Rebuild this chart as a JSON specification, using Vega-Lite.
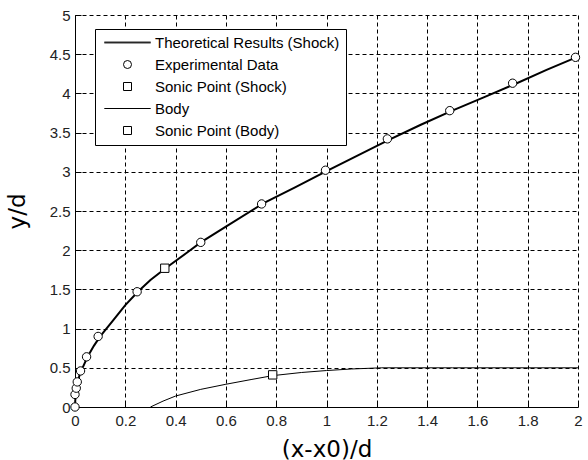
{
  "$schema": "https://vega.github.io/schema/vega-lite/v6.json",
  "width": 503,
  "height": 392,
  "autosize": {"type": "none"},
  "padding": {"left": 75, "top": 15, "right": 10, "bottom": 53},
  "background": "white",
  "config": {
    "view": {"stroke": null},
    "axis": {
      "domainColor": "black",
      "domainWidth": 1,
      "gridColor": "black",
      "gridDash": [4, 3],
      "gridOpacity": 1,
      "gridWidth": 1,
      "tickColor": "black",
      "tickSize": -6,
      "labelFont": "Liberation Sans",
      "labelFontSize": 15,
      "labelColor": "#222",
      "titleFont": "DejaVu Sans",
      "titleFontSize": 23,
      "titleFontWeight": "normal",
      "titleColor": "black"
    }
  },
  "datasets": {
    "lines": [
      {"series": "Theoretical Results (Shock)", "x": 0, "y": 0},
      {"series": "Theoretical Results (Shock)", "x": 0.001, "y": 0.08},
      {"series": "Theoretical Results (Shock)", "x": 0.003, "y": 0.15},
      {"series": "Theoretical Results (Shock)", "x": 0.006, "y": 0.23},
      {"series": "Theoretical Results (Shock)", "x": 0.01, "y": 0.31},
      {"series": "Theoretical Results (Shock)", "x": 0.02, "y": 0.43},
      {"series": "Theoretical Results (Shock)", "x": 0.03, "y": 0.5},
      {"series": "Theoretical Results (Shock)", "x": 0.05, "y": 0.64},
      {"series": "Theoretical Results (Shock)", "x": 0.075, "y": 0.78},
      {"series": "Theoretical Results (Shock)", "x": 0.1, "y": 0.9},
      {"series": "Theoretical Results (Shock)", "x": 0.15, "y": 1.1},
      {"series": "Theoretical Results (Shock)", "x": 0.2, "y": 1.3},
      {"series": "Theoretical Results (Shock)", "x": 0.25, "y": 1.47},
      {"series": "Theoretical Results (Shock)", "x": 0.3, "y": 1.62},
      {"series": "Theoretical Results (Shock)", "x": 0.36, "y": 1.77},
      {"series": "Theoretical Results (Shock)", "x": 0.45, "y": 1.98},
      {"series": "Theoretical Results (Shock)", "x": 0.5, "y": 2.1},
      {"series": "Theoretical Results (Shock)", "x": 0.6, "y": 2.3},
      {"series": "Theoretical Results (Shock)", "x": 0.75, "y": 2.6},
      {"series": "Theoretical Results (Shock)", "x": 0.875, "y": 2.8},
      {"series": "Theoretical Results (Shock)", "x": 1.0, "y": 3.01},
      {"series": "Theoretical Results (Shock)", "x": 1.125, "y": 3.21},
      {"series": "Theoretical Results (Shock)", "x": 1.25, "y": 3.41},
      {"series": "Theoretical Results (Shock)", "x": 1.375, "y": 3.6},
      {"series": "Theoretical Results (Shock)", "x": 1.5, "y": 3.78},
      {"series": "Theoretical Results (Shock)", "x": 1.625, "y": 3.95},
      {"series": "Theoretical Results (Shock)", "x": 1.75, "y": 4.12},
      {"series": "Theoretical Results (Shock)", "x": 1.875, "y": 4.3},
      {"series": "Theoretical Results (Shock)", "x": 2.0, "y": 4.47},
      {"series": "Body", "x": 0.3, "y": 0},
      {"series": "Body", "x": 0.35, "y": 0.075},
      {"series": "Body", "x": 0.4, "y": 0.14},
      {"series": "Body", "x": 0.5, "y": 0.225},
      {"series": "Body", "x": 0.6, "y": 0.29},
      {"series": "Body", "x": 0.7, "y": 0.35},
      {"series": "Body", "x": 0.786, "y": 0.4},
      {"series": "Body", "x": 0.9, "y": 0.44},
      {"series": "Body", "x": 1.0, "y": 0.465},
      {"series": "Body", "x": 1.1, "y": 0.485},
      {"series": "Body", "x": 1.22, "y": 0.5},
      {"series": "Body", "x": 1.5, "y": 0.5},
      {"series": "Body", "x": 2.0, "y": 0.5}
    ],
    "points": [
      {"series": "Experimental Data", "x": 0, "y": 0},
      {"series": "Experimental Data", "x": 0, "y": 0.16},
      {"series": "Experimental Data", "x": 0.005, "y": 0.24},
      {"series": "Experimental Data", "x": 0.009, "y": 0.32},
      {"series": "Experimental Data", "x": 0.022, "y": 0.46},
      {"series": "Experimental Data", "x": 0.046, "y": 0.64},
      {"series": "Experimental Data", "x": 0.092, "y": 0.9},
      {"series": "Experimental Data", "x": 0.247, "y": 1.47},
      {"series": "Experimental Data", "x": 0.5, "y": 2.1},
      {"series": "Experimental Data", "x": 0.742, "y": 2.59},
      {"series": "Experimental Data", "x": 0.996, "y": 3.02},
      {"series": "Experimental Data", "x": 1.242, "y": 3.42},
      {"series": "Experimental Data", "x": 1.49, "y": 3.78},
      {"series": "Experimental Data", "x": 1.74, "y": 4.13},
      {"series": "Experimental Data", "x": 1.99, "y": 4.46},
      {"series": "Sonic Point (Shock)", "x": 0.357, "y": 1.77},
      {"series": "Sonic Point (Body)", "x": 0.786, "y": 0.41}
    ]
  },
  "encoding": {
    "x": {
      "field": "x", "type": "quantitative",
      "scale": {"domain": [0, 2], "nice": false, "zero": false},
      "axis": {"values": [0, 0.2, 0.4, 0.6, 0.8, 1, 1.2, 1.4, 1.6, 1.8, 2], "format": "~g", "labelPadding": 12, "title": "(x-x0)/d", "titlePadding": 10, "labelFlush": false}
    },
    "y": {
      "field": "y", "type": "quantitative",
      "scale": {"domain": [0, 5], "nice": false, "zero": false},
      "axis": {"values": [0, 0.5, 1, 1.5, 2, 2.5, 3, 3.5, 4, 4.5, 5], "format": "~g", "labelPadding": 11, "title": "y/d", "titlePadding": 20, "labelFlush": false}
    }
  },
  "layer": [
    {
      "data": {"name": "lines"},
      "transform": [{"filter": "datum.series === 'Theoretical Results (Shock)'"}],
      "mark": {"type": "line", "color": "black", "strokeWidth": 2}
    },
    {
      "data": {"name": "lines"},
      "transform": [{"filter": "datum.series === 'Body'"}],
      "mark": {"type": "line", "color": "black", "strokeWidth": 1}
    },
    {
      "data": {"name": "points"},
      "mark": {"type": "point", "color": "black", "filled": false, "fill": "white", "strokeWidth": 1, "opacity": 1, "size": 70},
      "encoding": {
        "shape": {
          "field": "series", "type": "nominal",
          "scale": {
            "domain": ["Theoretical Results (Shock)", "Experimental Data", "Sonic Point (Shock)", "Body", "Sonic Point (Body)"],
            "range": ["M-5.8,-0.1H5.8M-5.8,0.1H5.8", "circle", "square", "M-5.8,0H5.8", "square"]
          },
          "legend": {
            "title": null,
            "orient": "none",
            "legendX": 20,
            "legendY": 14,
            "padding": 6,
            "rowPadding": 6,
            "symbolOffset": 19,
            "labelOffset": 20,
            "symbolSize": 64,
            "symbolStrokeWidth": 1,
            "labelFont": "Liberation Sans",
            "labelFontSize": 15,
            "labelColor": "black",
            "labelLimit": 300,
            "strokeColor": "black",
            "fillColor": "white",
            "cornerRadius": 0
          }
        }
      }
    }
  ]
}
